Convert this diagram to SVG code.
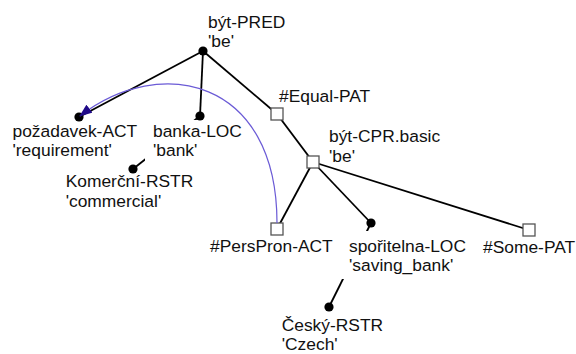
<svg xmlns="http://www.w3.org/2000/svg" width="576" height="354" viewBox="0 0 576 354">
  <style>
    .edge { stroke: #000; stroke-width: 1.8; fill: none; }
    .coref { stroke: #6b5bd6; stroke-width: 1.2; fill: none; }
    .dot { fill: #000; }
    .box { fill: #fff; stroke: #555; stroke-width: 1.3; }
    .bg { fill: #fff; }
    text { font-family: "Liberation Sans", Arial, sans-serif; font-size: 17.4px; fill: #111; }
  </style>
  <defs>
    <marker id="arrow" viewBox="0 0 13 10" refX="12" refY="5" markerWidth="13" markerHeight="10" markerUnits="userSpaceOnUse" orient="auto">
      <path d="M0,0 L13,5 L0,10 Z" fill="#200a88"/>
    </marker>
  </defs>
  <rect width="576" height="354" fill="#fff"/>

  <!-- tree edges (labels are drawn on white pads over them) -->
  <g id="edges">
    <line class="edge" x1="203" y1="51" x2="79" y2="117"/>
    <line class="edge" x1="203" y1="51" x2="200" y2="116"/>
    <line class="edge" x1="203" y1="51" x2="277" y2="114"/>
    <line class="edge" x1="200" y1="116" x2="133" y2="169"/>
    <line class="edge" x1="277" y1="114" x2="313" y2="162"/>
    <line class="edge" x1="313" y1="162" x2="277" y2="229"/>
    <line class="edge" x1="313" y1="162" x2="371" y2="223"/>
    <line class="edge" x1="313" y1="162" x2="529" y2="230"/>
    <line class="edge" x1="371" y1="223" x2="329" y2="307"/>
  </g>

  <g id="n-byt-pred">
    <rect class="bg" x="207" y="12" width="86" height="39"/>
    <circle class="dot" cx="203" cy="51" r="4.6"/>
    <text x="208" y="27.5">být-PRED</text>
    <text x="208" y="47">'be'</text>
  </g>
  <g id="n-pozadavek">
    <rect class="bg" x="11" y="121" width="128" height="40"/>
    <circle class="dot" cx="79" cy="117" r="4.6"/>
    <text x="12.5" y="136.7">požadavek-ACT</text>
    <text x="12.5" y="156">'requirement'</text>
  </g>
  <g id="n-banka">
    <rect class="bg" x="145" y="120" width="99" height="41"/>
    <circle class="dot" cx="200" cy="116" r="4.6"/>
    <text x="153" y="136.7">banka-LOC</text>
    <text x="153" y="156">'bank'</text>
  </g>
  <g id="n-komercni">
    <rect class="bg" x="64" y="173" width="135" height="39"/>
    <circle class="dot" cx="133" cy="169" r="4.6"/>
    <text x="65.7" y="187.3">Komerční-RSTR</text>
    <text x="65.7" y="206.7">'commercial'</text>
  </g>
  <g id="n-equal">
    <rect class="box" x="271" y="108" width="12" height="12"/>
    <text x="279" y="102">#Equal-PAT</text>
  </g>
  <g id="n-byt-cpr">
    <rect class="box" x="307" y="156" width="12" height="12"/>
    <text x="329" y="142.3">být-CPR.basic</text>
    <text x="329" y="161.7">'be'</text>
  </g>
  <g id="n-perspron">
    <rect class="box" x="271" y="223" width="12" height="12"/>
    <text x="210" y="252.3">#PersPron-ACT</text>
  </g>
  <g id="n-sporitelna">
    <rect class="bg" x="341" y="231" width="130" height="48"/>
    <circle class="dot" cx="371" cy="223" r="4.6"/>
    <text x="349" y="251.7">spořitelna-LOC</text>
    <text x="349" y="271">'saving_bank'</text>
  </g>
  <g id="n-some">
    <rect class="box" x="523" y="224" width="12" height="12"/>
    <text x="483" y="253.3">#Some-PAT</text>
  </g>
  <g id="n-cesky">
    <circle class="dot" cx="329" cy="307" r="4.6"/>
    <text x="281.7" y="331">Český-RSTR</text>
    <text x="281.7" y="350">'Czech'</text>
  </g>

  <!-- coreference arrow -->
  <g id="coref">
    <path class="coref" d="M277,223 C277,78 160,54 80,116" marker-end="url(#arrow)"/>
  </g>
</svg>
